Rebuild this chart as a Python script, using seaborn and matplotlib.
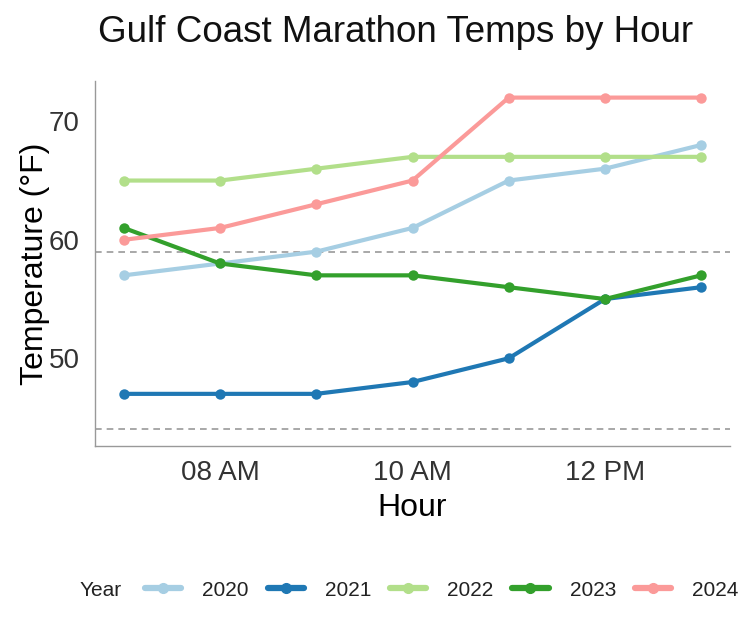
import pandas as pd
import matplotlib
matplotlib.use("Agg")
import matplotlib.pyplot as plt
import seaborn as sns

# hours of the race (24h clock)
hours = [7, 8, 9, 10, 11, 12, 13]
years = ["2020", "2021", "2022", "2023", "2024"]

temps_2020 = [57, 58, 59, 61, 65, 66, 68]
temps_2021 = [47, 47, 47, 48, 50, 55, 56]
temps_2022 = [65, 65, 66, 67, 67, 67, 67]
temps_2023 = [61, 58, 57, 57, 56, 55, 57]
temps_2024 = [60, 61, 63, 65, 72, 72, 72]

# reference lines
ref_lines = [59, 44]

tick_hours = [8, 10, 12]
tick_labels = ["08 AM", "10 AM", "12 PM"]

all_temps = [temps_2020, temps_2021, temps_2022, temps_2023, temps_2024]
rows = []
for yr, vals in zip(years, all_temps):
    for h, t in zip(hours, vals):
        rows.append([h, t, yr])
df = pd.DataFrame(rows, columns=["Hour", "Temp", "Year"])

sns.set_style("white")
plt.rcParams['font.family'] = ['Liberation Sans', 'DejaVu Sans']

palette = sns.color_palette("Paired", 5)

fig = plt.figure(figsize=(7.46, 6.42), dpi=100)
ax = fig.add_axes([95 / 746, 1 - 446 / 642, 635 / 746, 365 / 642])

for y in ref_lines:
    ax.axhline(y, color="#999999", linestyle=(0, (4, 3)), linewidth=1.2, zorder=1)

sns.lineplot(data=df, x="Hour", y="Temp", hue="Year", palette=palette,
             marker="o", markersize=7.5, markeredgewidth=0, linewidth=3.0,
             ax=ax, legend=False, zorder=3)

lo = min(min(v) for v in all_temps + [ref_lines])
hi = max(max(v) for v in all_temps + [ref_lines])
pad = (hi - lo) * 0.05
ax.set_ylim(lo - pad, hi + pad)
xpad = (max(hours) - min(hours)) * 0.05
ax.set_xlim(min(hours) - xpad, max(hours) + xpad)

ax.set_xticks(tick_hours)
ax.set_xticklabels(tick_labels)
ax.set_yticks([50, 60, 70])
ax.tick_params(axis="both", length=0, labelsize=20, labelcolor="#333333")
ax.tick_params(axis="x", pad=10)
ax.tick_params(axis="y", pad=11)

for s in ["top", "right"]:
    ax.spines[s].set_visible(False)
for s in ["left", "bottom"]:
    ax.spines[s].set_color("#999999")
    ax.spines[s].set_linewidth(1.0)

ax.set_xlabel("Hour", fontsize=23, color="black", labelpad=5)
ax.set_ylabel("Temperature (°F)", fontsize=23, color="black", labelpad=-1)

fig.text(396 / 746, 1 - 32 / 642, "Gulf Coast Marathon Temps by Hour",
         fontsize=26.5, ha="center", va="center", color="#111111")

# legend along the bottom
handles = [plt.Line2D([0], [0], color=c, linewidth=4.5, marker="o", markersize=7)
           for c in palette]
fig.text(80 / 746, 1 - 590 / 642, "Year", fontsize=15, ha="left", va="center",
         color="#222222")
leg = fig.legend(handles, years, loc="center left",
                 bbox_to_anchor=(145 / 746, 1 - 590 / 642), ncol=5, frameon=False,
                 fontsize=15, handlelength=1.75, handletextpad=1.0,
                 columnspacing=0.9, borderpad=0, borderaxespad=0)
for t in leg.get_texts():
    t.set_color("#222222")

fig.savefig("out.png", dpi=100)
